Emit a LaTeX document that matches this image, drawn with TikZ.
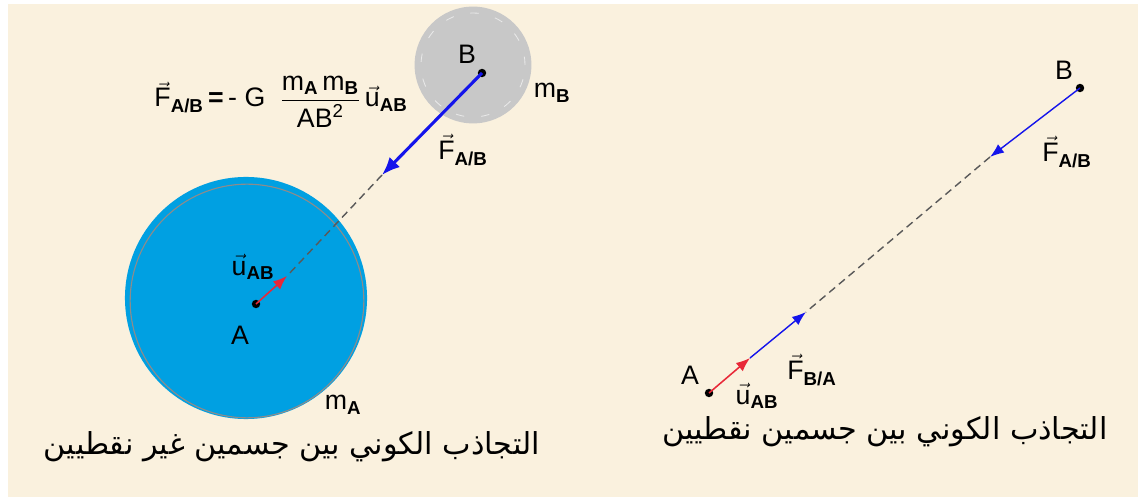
\documentclass[tikz,border=0pt]{standalone}
\usepackage{amsmath}
\usepackage{fontspec}
\setmainfont{Liberation Sans}
\newfontfamily\arabicfont[Script=Arabic]{DejaVu Sans}
\TeXXeTstate=1
\usetikzlibrary{arrows.meta}
\definecolor{cream}{RGB}{250,241,222}
\definecolor{massblue}{RGB}{0,160,226}
\definecolor{massgray}{RGB}{200,200,200}
\definecolor{forceblue}{RGB}{20,20,235}
\definecolor{unitred}{RGB}{232,40,56}
\newcommand{\vt}[2]{$\vec{\text{#1}}_{\text{\bfseries #2}}$}

\begin{document}
\begin{tikzpicture}[x=0.025cm, y=-0.025cm, every node/.style={font=\fontsize{19}{22}\selectfont, inner sep=0pt},
    pt/.style={circle, fill=black, minimum size=6pt},
    arab/.style={font=\fontsize{21.5}{24}\selectfont\arabicfont},
    force/.style={draw=forceblue, line width=1pt, -{Latex[length=0.35cm, width=0.26cm]}},
    bigforce/.style={draw=forceblue, line width=2.2pt, -{Latex[length=0.45cm, width=0.36cm]}},
    unit/.style={draw=unitred, line width=1.1pt, -{Latex[length=0.35cm, width=0.27cm]}},
    axis/.style={draw=black!65, line width=1pt, dash pattern=on 5.5pt off 3.5pt}]
        \fill[white] (0,0) rectangle (1138,497);
        \fill[cream] (8,4) rectangle (1138,497);
        \useasboundingbox (0,0) rectangle (1138,497);

        \fill[massblue] (246,298) circle (3.025cm);
        \draw[black!45, line width=0.8pt] (247,301) circle (2.92cm);
        \fill[massgray] (473,65) circle (1.46cm);
        \draw[white!60!massgray, line width=0.6pt, dash pattern=on 6pt off 12pt] (473,65) circle (1.3cm);

        \node (A1) [pt] at (256,304) {};
        \node (B1) [pt] at (482,73) {};
        \coordinate (tipB1) at (382,175);
        \coordinate (tipU1) at (287,276);
        \draw[axis] (tipB1) -- (tipU1);
        \draw[bigforce] (B1.center) -- (tipB1);
        \draw[unit] (A1.center) -- (tipU1);

        \node (labB1) at (467,54) {B};
        \node (labmB) at (552,93) {m$_{\text{\bfseries B}}$};
        \node (formula) at (281,102) {\vt{F}{A/B}\,{\bfseries =}\,- G\ \ $\dfrac{\text{m}_{\text{\bfseries A}}\,\text{m}_{\text{\bfseries B}}}{\text{AB}^{\text{2}}}$\,\vt{u}{AB}};
        \node (labF1) at (463,150) {\vt{F}{A/B}};
        \node (labu1) at (253,267) {\vt{u}{AB}};
        \node (labA1) at (240,335) {A};
        \node (labmA) at (343,405) {m$_{\text{\bfseries A}}$};
        \node (arab1) [arab] at (292,447) {\beginR التجاذب الكوني بين جسمين غير نقطيين\endR};

        \node (A2) [pt] at (709,393) {};
        \node (B2) [pt] at (1080,88) {};
        \coordinate (tipB2) at (990,157);
        \coordinate (tipU2) at (750,358);
        \coordinate (tipA2) at (806,312);
        \draw[axis] (tipB2) -- (tipA2);
        \draw[force] (B2.center) -- (tipB2);
        \draw[force] (tipU2) -- (tipA2);
        \draw[unit] (A2.center) -- (tipU2);

        \node (labB2) at (1064,70) {B};
        \node (labF2) at (1067,152) {\vt{F}{A/B}};
        \node (labA2) at (690,375) {A};
        \node (labu2) at (757,396) {\vt{u}{AB}};
        \node (labF3) at (812,370) {\vt{F}{B/A}};
        \node (arab2) [arab] at (885,432) {\beginR التجاذب الكوني بين جسمين نقطيين\endR};
    \end{tikzpicture}
\end{document}
